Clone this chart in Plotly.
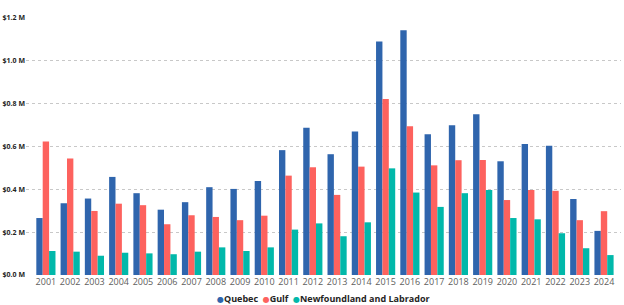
import plotly.graph_objects as go

years = [str(y) for y in range(2001, 2025)]
quebec = [0.266, 0.335, 0.357, 0.458, 0.382, 0.305, 0.340, 0.410, 0.402, 0.439, 0.583, 0.688,
          0.564, 0.670, 1.090, 1.143, 0.657, 0.699, 0.751, 0.531, 0.612, 0.604, 0.355, 0.206]
gulf = [0.623, 0.544, 0.299, 0.333, 0.326, 0.237, 0.279, 0.271, 0.256, 0.277, 0.464, 0.503,
        0.374, 0.506, 0.822, 0.695, 0.512, 0.536, 0.537, 0.350, 0.397, 0.393, 0.256, 0.298]
nfl = [0.112, 0.109, 0.090, 0.104, 0.101, 0.097, 0.109, 0.129, 0.112, 0.129, 0.212, 0.241,
       0.181, 0.246, 0.498, 0.385, 0.318, 0.382, 0.397, 0.266, 0.260, 0.195, 0.125, 0.093]
series_names = ["Quebec", "Gulf", "Newfoundland and Labrador"]
colors = ["#2F65AD", "#FD625E", "#01B8AA"]
y_ticks = [0, 0.2, 0.4, 0.6, 0.8, 1.0, 1.2]
y_tick_text = ["$0.0 M", "$0.2 M", "$0.4 M", "$0.6 M", "$0.8 M", "$1.0 M", "$1.2 M"]

fig = go.Figure()
for name, vals, c in zip(series_names, [quebec, gulf, nfl], colors):
    fig.add_trace(go.Bar(x=years, y=[v * 1e6 for v in vals], name=name,
                         marker=dict(color=c, line=dict(width=0)), showlegend=False))

legend_text = "&nbsp;&nbsp;".join(
    f"<span style='color:{c};font-size:8px'>●</span>{n}" for n, c in zip(series_names, colors)
)

fig.update_layout(
    width=624, height=305,
    margin=dict(l=26, r=3, t=18, b=30),
    paper_bgcolor="white", plot_bgcolor="white",
    barmode="group", bargap=0.21, bargroupgap=0,
    font=dict(family="Open Sans, DejaVu Sans, sans-serif"),
    xaxis=dict(type="category", range=[-0.82, 23.7], showgrid=False, showline=False,
               ticks="", tickfont=dict(size=9, color="#605E5C"), automargin=False),
    yaxis=dict(range=[0, 1.2e6], tickvals=[v * 1e6 for v in y_ticks], ticktext=y_tick_text,
               showgrid=True, gridcolor="#C8C8C8", griddash="dot", gridwidth=1,
               zeroline=False, showline=False, ticks="", automargin=False,
               tickfont=dict(size=7, color="#252423", weight="bold")),
    showlegend=False,
    annotations=[dict(text=legend_text, xref="paper", yref="paper", x=0.5, xanchor="center",
                      y=-0.093, yanchor="middle", showarrow=False,
                      font=dict(size=9, color="#252423", weight="bold"))],
)
fig.write_html("out.html", config={"displayModeBar": False},
               post_script="document.body.style.margin='0';")
